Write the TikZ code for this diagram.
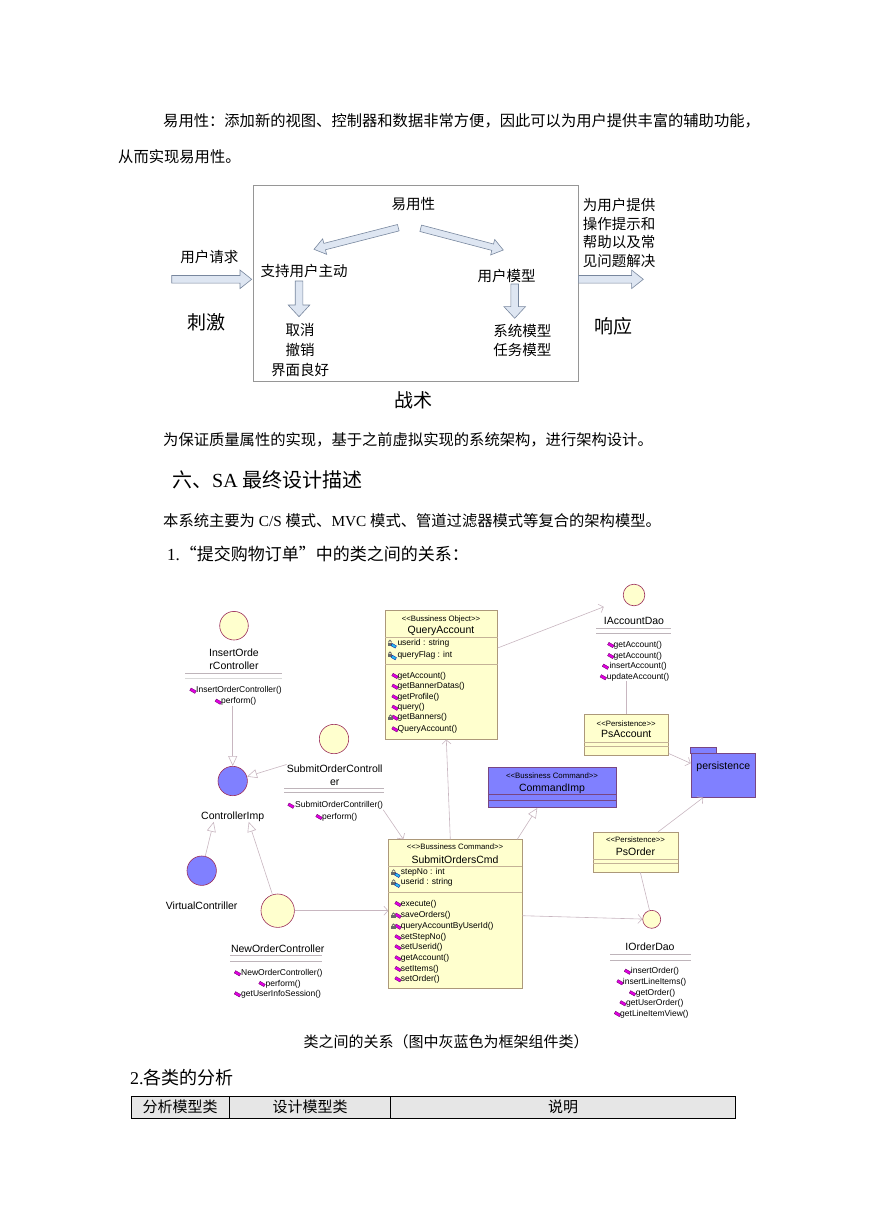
\documentclass[tikz,border=0pt]{standalone}
\usepackage{fontspec}
\setmainfont{Liberation Serif}
\newfontfamily\cjk{Noto Sans CJK SC}
\newfontfamily\umlfont{Liberation Sans}
\usetikzlibrary{arrows.meta,calc}

\definecolor{classyellow}{RGB}{255,255,206}
\definecolor{boxline}{RGB}{172,152,122}
\definecolor{sepcol}{RGB}{196,178,150}
\definecolor{circline}{RGB}{155,45,90}
\definecolor{umlblue}{RGB}{128,128,255}
\definecolor{blueline}{RGB}{120,70,130}
\definecolor{linkgray}{RGB}{200,182,192}
\definecolor{opfill}{RGB}{225,0,225}
\definecolor{opline}{RGB}{100,0,100}
\definecolor{attrcyan}{RGB}{40,190,240}
\definecolor{lockgray}{RGB}{105,105,105}
\definecolor{arrowfill}{RGB}{222,230,242}
\definecolor{arrowline}{RGB}{120,135,158}
\definecolor{framegray}{RGB}{150,150,150}
\definecolor{tablegray}{RGB}{230,230,230}
\definecolor{listsep}{RGB}{190,180,186}

\tikzset{
  bodytext/.style={anchor=west, inner sep=0pt, font=\fontsize{15.3}{18}\selectfont},
  cjktext/.style={inner sep=0pt, font=\cjk\fontsize{14.5}{19}\selectfont},
  bigcjk/.style={inner sep=0pt, font=\cjk\fontsize{19}{22}\selectfont},
  blockarr/.style={draw=arrowline, fill=arrowfill, line width=0.6pt, line join=miter},
  classbox/.style={rectangle, draw=boxline, fill=classyellow, line width=0.6pt,
                   inner sep=0pt, anchor=north west},
  framebox/.style={rectangle, draw=blueline, fill=umlblue, line width=0.6pt,
                   inner sep=0pt, anchor=north west},
  iface/.style={circle, draw=circline, fill=classyellow, line width=0.6pt, inner sep=0pt},
  frameiface/.style={iface, fill=umlblue},
  umlname/.style={inner sep=0pt, font=\umlfont\fontsize{10.5}{13}\selectfont},
  stereo/.style={inner sep=0pt, font=\umlfont\fontsize{7.8}{9}\selectfont},
  member/.style={anchor=west, inner sep=0pt, font=\umlfont\fontsize{8.5}{10}\selectfont},
  boxsep/.style={draw=sepcol, line width=0.6pt},
  framesep/.style={draw=blueline, line width=0.6pt},
  listrule/.style={draw=listsep, line width=0.6pt},
  link/.style={draw=linkgray, line width=0.6pt},
  realize/.style={link, -{Triangle[open, length=10pt, width=9pt]}},
  usage/.style={link, -{Straight Barb[length=4pt, width=9pt]}},
  opicon/.pic={\filldraw[fill=opfill, draw=opline, line width=0.3pt, rotate=-30]
                 (-3,-1.4) rectangle (3,1.4);},
  lockicon/.pic={\fill[lockgray] (-2.2,-0.3) rectangle (2.2,2.9);
                 \draw[lockgray, line width=0.8pt] (-1.3,-0.3) -- (-1.3,-1.2)
                   arc[start angle=180, end angle=0, radius=1.3pt] -- (1.3,-0.3);},
  attricon/.pic={\pic at (-2.2,-0.5) {lockicon};
                 \filldraw[fill=attrcyan, draw=blue!60!black, line width=0.3pt, rotate=-30]
                   (0.2,0.1) rectangle (5,2.7);},
}

% block arrow between two points: start, end, half shaft, half head, head length
\newcommand{\blockarrow}[5]{%
  \coordinate (ba-neck) at ($(#2)!#5!(#1)$);
  \draw[blockarr] ($(#1)!#3!90:(#2)$) -- ($(ba-neck)!#3!-90:(#1)$)
    -- ($(ba-neck)!#4!-90:(#1)$) -- (#2) -- ($(ba-neck)!#4!90:(#1)$)
    -- ($(ba-neck)!#3!90:(#1)$) -- ($(#1)!#3!-90:(#2)$) -- cycle;
}

\begin{document}
\begin{tikzpicture}[x=1pt, y=-1pt]
  \useasboundingbox (0,0) rectangle (869,1228);

  % opening paragraph
  \node[bodytext] (para1) at (163,121) {\cjk 易用性：添加新的视图、控制器和数据非常方便，因此可以为用户提供丰富的辅助功能，};
  \node[bodytext] (para2) at (118,157) {\cjk 从而实现易用性。};

  % usability tactics figure
  \node[draw=framegray, line width=0.7pt, minimum width=325pt, minimum height=196pt,
        inner sep=0pt] (tactics) at (415.8,283) {};
  \node[cjktext] (usab)       at (413.3,204) {易用性};
  \node[cjktext] (initiative) at (304,270.7) {支持用户主动};
  \node[cjktext, align=center, font=\cjk\fontsize{14.5}{20}\selectfont] (undo) at (300,350) {取消\\撤销\\界面良好};
  \node[cjktext] (usermodel)  at (506.7,276) {用户模型};
  \node[cjktext, align=center] (models) at (522.3,340.3) {系统模型\\任务模型};
  \node[cjktext] (request)    at (209.3,257.3) {用户请求};
  \node[bigcjk]  (stimulus)   at (206.7,322.7) {刺激};
  \node[cjktext, align=left, anchor=west, font=\cjk\fontsize{14.5}{18.7}\selectfont] (helptext) at (582.7,233) {为用户提供\\操作提示和\\帮助以及常\\见问题解决};
  \node[bigcjk]  (response)   at (613.3,326.7) {响应};
  \node[bigcjk]  (tactic)     at (413.3,400) {战术};

  \coordinate (a1s) at (398.3,227.7);  \coordinate (a1e) at (314,249.3);
  \coordinate (a2s) at (420.7,228.3);  \coordinate (a2e) at (503.3,250);
  \coordinate (a3s) at (299,281);      \coordinate (a3e) at (299,316.7);
  \coordinate (a4s) at (514.7,284);    \coordinate (a4e) at (514.7,318.3);
  \coordinate (reqs) at (171.7,279.3); \coordinate (reqe) at (251.7,279.3);
  \coordinate (resps) at (tactics.east |- reqs); \coordinate (respe) at (643.3,279.3);

  \blockarrow{a1s}{a1e}{3.3pt}{8pt}{11pt}
  \blockarrow{a2s}{a2e}{3.3pt}{8pt}{11pt}
  \blockarrow{a3s}{a3e}{3.8pt}{10.8pt}{11.7pt}
  \blockarrow{a4s}{a4e}{3.8pt}{10.8pt}{11.7pt}
  \blockarrow{reqs}{reqe}{3.8pt}{9.3pt}{11.7pt}
  \blockarrow{resps}{respe}{3.8pt}{9.3pt}{11.7pt}

  % section text
  \node[bodytext] (para3) at (163,440) {\cjk 为保证质量属性的实现，基于之前虚拟实现的系统架构，进行架构设计。};
  \node[bodytext, font=\fontsize{20}{24}\selectfont] (heading) at (172,480) {{\cjk 六、}SA {\cjk 最终设计描述}};
  \node[bodytext] (para4) at (163,521) {{\cjk 本系统主要为} C/S {\cjk 模式、}MVC {\cjk 模式、管道过滤器模式等复合的架构模型。}};
  \node[bodytext, font=\fontsize{17}{20}\selectfont] (item1) at (167,554) {1.{\cjk “提交购物订单”中的类之间的关系：}};

  % ---- class diagram ----
  % QueryAccount
  \node[classbox, minimum width=112pt, minimum height=129pt] (qa) at (385,610) {};
  \node[stereo]  (qast)   at (441,619) {<{}<Bussiness Object>{}>};
  \node[umlname] (qaname) at (441,630.7) {QueryAccount};
  \draw[boxsep] (qa.west |- 0,637.3) -- (qa.east |- 0,637.3);
  \draw[boxsep] (qa.west |- 0,664) -- (qa.east |- 0,664);
  \foreach \yy/\aname [count=\i] in {643.3/userid : string, 655/queryFlag : int} {
    \pic at (392.2,\yy) {attricon};
    \node[member] (qaa\i) at (397.3,\yy) {\aname};
  }
  \foreach \yy/\mname [count=\i] in {676/getAccount(), 686.7/getBannerDatas(), 697.3/getProfile(),
      707.7/query(), 717.7/getBanners(), 729.3/QueryAccount()} {
    \pic at (395,\yy) {opicon};
    \node[member] (qam\i) at (397.5,\yy) {\mname};
  }
  \pic at (390.5,717.5) {lockicon};

  % IAccountDao
  \node[iface, minimum size=21.6pt] (iad) at (634,595) {};
  \node[umlname] (iadl) at (634,620.7) {IAccountDao};
  \draw[listrule] (596,628.3) -- (670.7,628.3);
  \draw[listrule] (596,633.3) -- (670.7,633.3);
  \foreach \ix/\tx/\yy/\mname [count=\i] in {610.8/613.5/645/getAccount(), 610.8/613.5/656/getAccount(),
      605.5/609.3/666.7/insertAccount(), 603.3/606.7/677.3/updateAccount()} {
    \pic at (\ix,\yy) {opicon};
    \node[member] (iadm\i) at (\tx,\yy) {\mname};
  }

  % PsAccount
  \node[classbox, minimum width=84.3pt, minimum height=41pt] (psa) at (584,714) {};
  \node[stereo]  (psast)   at (626.2,724) {<{}<Persistence>{}>};
  \node[umlname] (psaname) at (626.2,734.3) {PsAccount};
  \draw[boxsep] (psa.west |- 0,742.3) -- (psa.east |- 0,742.3);
  \draw[boxsep] (psa.west |- 0,746) -- (psa.east |- 0,746);

  % persistence package
  \node[framebox, minimum width=64.3pt, minimum height=43.7pt] (pers) at (690.7,753.3) {};
  \filldraw[draw=blueline, fill=umlblue, line width=0.6pt] (pers.north west) rectangle ++(26,-6);
  \node[umlname] (persl) at (723.3,766.7) {persistence};

  % CommandImp
  \node[framebox, minimum width=127.4pt, minimum height=40.6pt] (cmd) at (488.3,766.7) {};
  \node[stereo]  (cmdst)   at (552,775.7) {<{}<Bussiness Command>{}>};
  \node[umlname] (cmdname) at (552,788.3) {CommandImp};
  \draw[framesep] (cmd.west |- 0,794.3) -- (cmd.east |- 0,794.3);
  \draw[framesep] (cmd.west |- 0,800) -- (cmd.east |- 0,800);

  % PsOrder
  \node[classbox, minimum width=84.4pt, minimum height=40pt] (pso) at (593.3,831.7) {};
  \node[stereo]  (psost)   at (635.5,840) {<{}<Persistence>{}>};
  \node[umlname] (psoname) at (635.5,851.7) {PsOrder};
  \draw[boxsep] (pso.west |- 0,859.3) -- (pso.east |- 0,859.3);
  \draw[boxsep] (pso.west |- 0,863.3) -- (pso.east |- 0,863.3);

  % SubmitOrdersCmd
  \node[classbox, minimum width=133.4pt, minimum height=149pt] (soc) at (388.3,839.3) {};
  \node[stereo]  (socst)   at (455,846.7) {<{}<>Bussiness Command>{}>};
  \node[umlname] (socname) at (455,859.3) {SubmitOrdersCmd};
  \draw[boxsep] (soc.west |- 0,866.7) -- (soc.east |- 0,866.7);
  \draw[boxsep] (soc.west |- 0,892.3) -- (soc.east |- 0,892.3);
  \foreach \yy/\aname [count=\i] in {872.7/stepNo : int, 882.7/userid : string} {
    \pic at (395.8,\yy) {attricon};
    \node[member] (soca\i) at (400.7,\yy) {\aname};
  }
  \foreach \yy/\mname [count=\i] in {904/execute(), 915.7/saveOrders(), 926.7/queryAccountByUserId(),
      937.3/setStepNo(), 947.3/setUserid(), 958.3/getAccount(), 969/setItems(), 979.3/setOrder()} {
    \pic at (398,\yy) {opicon};
    \node[member] (socm\i) at (400.7,\yy) {\mname};
  }
  \pic at (393.5,915.5) {lockicon};
  \pic at (393.5,926.5) {lockicon};

  % IOrderDao
  \node[iface, minimum size=18pt] (iod) at (651.7,919.3) {};
  \node[umlname] (iodl) at (650,946.7) {IOrderDao};
  \draw[listrule] (610,954.3) -- (690.7,954.3);
  \draw[listrule] (610,960) -- (690.7,960);
  \foreach \ix/\tx/\yy/\mname [count=\i] in {627.5/630.7/971.7/insertOrder(), 620/622.7/982.3/insertLineItems(),
      632.5/635.7/993.3/getOrder(), 623/626/1003.3/getUserOrder(), 617.5/620/1014/getLineItemView()} {
    \pic at (\ix,\yy) {opicon};
    \node[member] (iodm\i) at (\tx,\yy) {\mname};
  }

  % InsertOrderController
  \node[iface, minimum size=28.6pt] (ioc) at (234,625.7) {};
  \node[umlname, align=center] (iocl) at (234,659.5) {InsertOrde\\rController};
  \draw[listrule] (185,673.7) -- (282,673.7);
  \draw[listrule, line width=1.2pt, draw=black!15] (185,678.5) -- (282,678.5);
  \foreach \ix/\tx/\yy/\mname [count=\i] in {193/196/690.7/InsertOrderController(), 218.3/221/701.7/perform()} {
    \pic at (\ix,\yy) {opicon};
    \node[member] (iocm\i) at (\tx,\yy) {\mname};
  }

  % ControllerImp
  \node[frameiface, minimum size=29.4pt] (cimp) at (232.7,781) {};
  \node[umlname] (cimpl) at (232.7,816.7) {ControllerImp};

  % SubmitOrderController
  \node[iface, minimum size=29.4pt] (sctl) at (334,739) {};
  \node[umlname, align=center] (sctll) at (334.7,775) {SubmitOrderControll\\er};
  \draw[listrule] (284,788.3) -- (384,788.3);
  \draw[listrule] (284,792.7) -- (384,792.7);
  \foreach \ix/\tx/\yy/\mname [count=\i] in {291/295/805.7/SubmitOrderContriller(), 319/322/817/perform()} {
    \pic at (\ix,\yy) {opicon};
    \node[member] (sctlm\i) at (\tx,\yy) {\mname};
  }

  % VirtualContriller
  \node[frameiface, minimum size=29.4pt] (vc) at (201.7,870.7) {};
  \node[umlname] (vcl) at (201.7,906) {VirtualContriller};

  % NewOrderController
  \node[iface, minimum size=33.4pt] (noc) at (277.7,910.7) {};
  \node[umlname] (nocl) at (277.7,948.3) {NewOrderController};
  \draw[listrule] (230,955.7) -- (322.3,955.7);
  \draw[listrule] (230,961) -- (322.3,961);
  \foreach \ix/\tx/\yy/\mname [count=\i] in {237.5/241/973.3/NewOrderController(), 262/265.5/984/perform(),
      237.5/241/994.3/getUserInfoSession()} {
    \pic at (\ix,\yy) {opicon};
    \node[member] (nocm\i) at (\tx,\yy) {\mname};
  }

  % connectors
  \draw[realize] (cimp.north |- iocm2.south) -- (cimp.north);
  \draw[realize] (sctll.north west) -- (cimp);
  \draw[realize] (vc) -- ([xshift=-19pt]cimpl.south);
  \draw[realize] (noc) -- ([xshift=16pt]cimpl.south);
  \draw[usage]   (noc) -- (noc -| soc.west);
  \draw[usage]   (sctlm1.south east) -- ([xshift=15pt]soc.north west);
  \draw[usage]   ([xshift=-5pt]soc.north) -- ([xshift=5pt]qa.south);
  \draw[realize] ([xshift=62pt]soc.north) -- ([xshift=-15pt]cmd.south);
  \draw[usage]   ([yshift=-38pt]qa.north east) -- ([yshift=10pt]iadl.north west);
  \draw[link]    (iadm4.south -| psa.north) -- (psa.north);
  \draw[usage]   ([yshift=2pt]psa.south east) -- ([yshift=-10pt]pers.north west);
  \draw[usage]   ([xshift=22.5pt]pso.north) -- ([xshift=-20pt]pers.south);
  \draw[link]    ([xshift=4.5pt]pso.south) -- (iod);
  \draw[usage]   (socm2 -| soc.east) -- (iod);

  % caption and table
  \node[inner sep=0pt, font=\cjk\fontsize{15}{18}\selectfont] (caption) at (446,1042) {类之间的关系（图中灰蓝色为框架组件类）};
  \node[bodytext, font=\fontsize{18}{22}\selectfont] (item2) at (130,1078) {2.{\cjk 各类的分析}};
  \node[draw=black, fill=tablegray, line width=0.8pt, minimum width=604pt, minimum height=22pt,
        inner sep=0pt, anchor=north west] (table) at (131,1096) {};
  \draw[line width=0.8pt] (table.north -| 229,0) -- (table.south -| 229,0);
  \draw[line width=0.8pt] (table.north -| 390,0) -- (table.south -| 390,0);
  \node[inner sep=0pt, font=\cjk\fontsize{15}{18}\selectfont] (col1) at (180,1107) {分析模型类};
  \node[inner sep=0pt, font=\cjk\fontsize{15}{18}\selectfont] (col2) at (310,1107) {设计模型类};
  \node[inner sep=0pt, font=\cjk\fontsize{15}{18}\selectfont] (col3) at (563,1107) {说明};
\end{tikzpicture}
\end{document}
